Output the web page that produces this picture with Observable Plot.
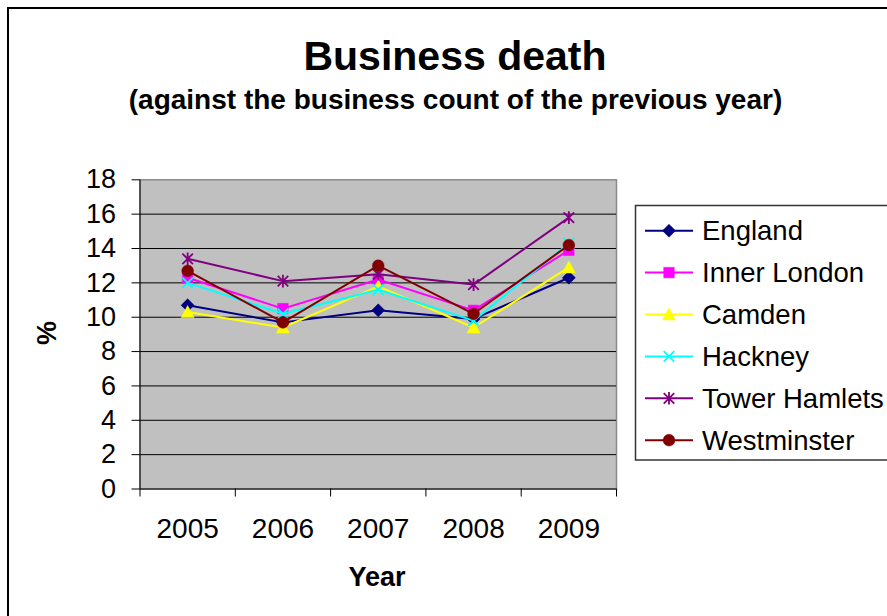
<!DOCTYPE html>
<html>
<head>
<meta charset="utf-8">
<script src="https://cdn.jsdelivr.net/npm/d3@7"></script>
<script src="https://cdn.jsdelivr.net/npm/@observablehq/plot@0.6"></script>
<style>
  html, body { margin: 0; padding: 0; background: #fff; }
  #chart svg { display: block; }
</style>
</head>
<body>
<div id="chart"></div>
<script>
// Business death rates (% of previous year's business count)
const years = [2005, 2006, 2007, 2008, 2009];
const seriesNames = ["England", "Inner London", "Camden", "Hackney", "Tower Hamlets", "Westminster"];
const england      = [10.7, 9.7, 10.4, 9.9, 12.3];
const innerLondon  = [12.3, 10.5, 12.2, 10.4, 13.9];
const camden       = [10.3, 9.4, 11.8, 9.4, 12.9];
const hackney      = [12.0, 10.2, 11.6, 9.8, 14.3];
const towerHamlets = [13.4, 12.1, 12.5, 11.9, 15.8];
const westminster  = [12.7, 9.7, 13.0, 10.2, 14.2];
const yTicks = [0, 2, 4, 6, 8, 10, 12, 14, 16, 18];

const seriesValues = [england, innerLondon, camden, hackney, towerHamlets, westminster];
const colors = ["#000080", "#ff00ff", "#ffff00", "#00ffff", "#800080", "#800000"];

// Marker shapes; size is the area of the equivalent circle (as Plot passes it)
const rad = (size) => Math.sqrt(size / Math.PI);
const diamond = {draw(c, size) { const a = rad(size) * 1.05; c.moveTo(0, -a); c.lineTo(a, 0); c.lineTo(0, a); c.lineTo(-a, 0); c.closePath(); }};
const square = {draw(c, size) { const s = rad(size) * 0.85; c.rect(-s, -s, 2 * s, 2 * s); }};
const triangle = {draw(c, size) { const a = rad(size) * 1.05; c.moveTo(0, -a); c.lineTo(a, a * 0.85); c.lineTo(-a, a * 0.85); c.closePath(); }};
const cross = {draw(c, size) { const a = rad(size) * 0.85; c.moveTo(-a, -a); c.lineTo(a, a); c.moveTo(a, -a); c.lineTo(-a, a); }};
const star = {draw(c, size) { const a = rad(size) * 0.85; c.moveTo(-a, -a); c.lineTo(a, a); c.moveTo(a, -a); c.lineTo(-a, a); c.moveTo(0, -a * 1.2); c.lineTo(0, a * 1.2); }};
const circle = {draw(c, size) { const r = rad(size) * 0.95; c.moveTo(r, 0); c.arc(0, 0, r, 0, 2 * Math.PI); }};
const symbols = [diamond, square, triangle, cross, star, circle];
const filled = [true, true, true, false, false, true];
const markerR = 6.2;

const rows = seriesNames.flatMap((name, i) =>
  years.map((year, j) => ({series: name, year, value: seriesValues[i][j]}))
);

const font = "'Liberation Sans', Arial, sans-serif";
const W = 887, H = 616;
const marginLeft = 139.5, marginRight = W - 616, marginTop = 179.3, marginBottom = H - 488.5;

const seriesMarks = seriesNames.flatMap((name, i) => {
  const data = rows.filter(d => d.series === name);
  return [
    Plot.line(data, {x: "year", y: "value", stroke: colors[i], strokeWidth: 2}),
    Plot.dot(data, {
      x: "year", y: "value", r: markerR, symbol: symbols[i],
      fill: filled[i] ? colors[i] : "none",
      stroke: colors[i], strokeWidth: filled[i] ? 0.5 : 1.8
    })
  ];
});

const boundaries = d3.range(years.length + 1).map(k => years[0] - 0.5 + k);

const svg = Plot.plot({
  width: W, height: H,
  marginLeft, marginRight, marginTop, marginBottom,
  style: {fontFamily: font, color: "#000", background: "#fff"},
  x: {type: "linear", domain: [years[0] - 0.5, years[years.length - 1] + 0.5]},
  y: {domain: [0, 18]},
  marks: [
    Plot.frame({fill: "#c0c0c0", stroke: "#8a8a8a", strokeWidth: 1.5}),
    Plot.gridY(yTicks.filter(t => t > 0 && t < 18), {stroke: "#000", strokeOpacity: 1, strokeWidth: 1}),
    Plot.ruleX([years[0] - 0.5], {stroke: "#000", strokeWidth: 1}),
    Plot.ruleY([0], {stroke: "#000", strokeWidth: 1.2}),
    Plot.axisY(yTicks, {tickSize: 8, tickPadding: 16, fontSize: 27, label: null, tickFormat: d => String(d)}),
    Plot.axisX(boundaries, {tickSize: 8, tickFormat: () => "", label: null}),
    Plot.axisX(years, {tickSize: 0, tickPadding: 29, fontSize: 28, label: null, tickFormat: d => String(d)}),
    ...seriesMarks
  ]
});

const root = d3.select(svg);

// Chart titles and axis titles
root.append("text")
  .attr("x", 455).attr("y", 70)
  .attr("text-anchor", "middle")
  .style("font", `bold 41px ${font}`)
  .text("Business death");
root.append("text")
  .attr("x", 455.5).attr("y", 109)
  .attr("text-anchor", "middle")
  .style("font", `bold 28px ${font}`)
  .text("(against the business count of the previous year)");
root.append("text")
  .attr("x", 377).attr("y", 586)
  .attr("text-anchor", "middle")
  .style("font", `bold 27px ${font}`)
  .text("Year");
root.append("text")
  .attr("transform", "translate(56,333) rotate(-90)")
  .attr("text-anchor", "middle")
  .style("font", `bold 27px ${font}`)
  .text("%");

// Legend
const legend = root.append("g").attr("text-anchor", "start");
legend.append("rect")
  .attr("x", 635.5).attr("y", 205.5)
  .attr("width", 320).attr("height", 254.5)
  .attr("fill", "#fff").attr("stroke", "#333").attr("stroke-width", 1.5);
seriesNames.forEach((name, i) => {
  const y = 230.7 + i * 41.9;
  const g = legend.append("g");
  g.append("line")
    .attr("x1", 645).attr("x2", 693).attr("y1", y).attr("y2", y)
    .attr("stroke", colors[i]).attr("stroke-width", 2);
  g.append("path")
    .attr("transform", `translate(669,${y})`)
    .attr("d", d3.symbol(symbols[i], markerR * markerR * Math.PI)())
    .attr("fill", filled[i] ? colors[i] : "none")
    .attr("stroke", colors[i])
    .attr("stroke-width", filled[i] ? 0.5 : 1.8);
  g.append("text")
    .attr("x", 702).attr("y", y)
    .attr("dy", "0.35em")
    .attr("text-anchor", "start")
    .style("font", `27.5px ${font}`)
    .attr("fill", "#000")
    .text(name);
});

// Outer chart border
root.append("rect")
  .attr("x", 8).attr("y", 8)
  .attr("width", W + 20).attr("height", H + 20)
  .attr("fill", "none").attr("stroke", "#000").attr("stroke-width", 2);

document.getElementById("chart").appendChild(svg);
</script>
</body>
</html>
